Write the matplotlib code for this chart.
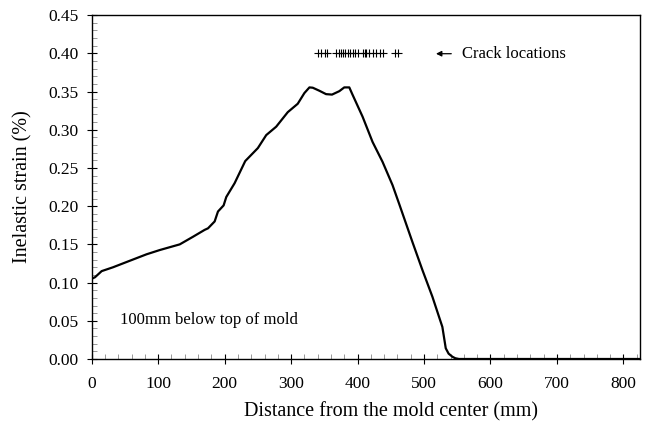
import matplotlib
matplotlib.use("Agg")
import matplotlib.pyplot as plt
from matplotlib.ticker import MultipleLocator, FormatStrFormatter

plt.rcParams['font.family'] = ['Liberation Serif', 'DejaVu Serif']

# Inelastic strain profile along the mold, 100 mm below the top
distance_mm = [0, 5, 15, 32, 57.5, 82.5, 102.5, 132.5, 152.5, 170, 175, 185, 190,
               198.5, 202.5, 215, 231, 250, 262.6, 277.6, 295, 310, 320, 327.6,
               332.6, 342.6, 352.6, 361.6, 372.6, 380, 387.6, 391.6, 407.6, 422.6,
               437.6, 452.6, 462.6, 482.6, 497.6, 512.6, 527.6, 532.7, 537, 542.6,
               547, 552.6, 600, 700, 825]
strain_pct = [0.105, 0.107, 0.115, 0.120, 0.1286, 0.137, 0.1426, 0.150, 0.160, 0.169,
              0.171, 0.180, 0.193, 0.201, 0.212, 0.230, 0.259, 0.276, 0.293, 0.304,
              0.323, 0.334, 0.348, 0.3554, 0.355, 0.351, 0.3466, 0.346, 0.3505,
              0.3554, 0.3554, 0.3475, 0.317, 0.284, 0.258, 0.2276, 0.203, 0.153,
              0.1164, 0.0815, 0.042, 0.014, 0.007, 0.003, 0.001, 0.0, 0.0, 0.0, 0.0]

# Observed crack positions
crack_x = [340.6, 344.5, 350.5, 354.6, 368.1, 371.5, 374.6, 378.2, 380.6, 385.7,
           389.1, 393.2, 396.6, 400.7, 408.2, 410.6, 413.1, 416.6, 423.2, 428.1,
           433.1, 438.2, 455.6, 461.6]
crack_level = 0.40

fig = plt.figure(figsize=(6.48, 4.32), dpi=100)
ax = fig.add_axes([0.1415, 0.169, 0.8462, 0.796])

ax.plot(distance_mm, strain_pct, color='black', lw=1.6, solid_joinstyle='round')
ax.plot(crack_x, [crack_level] * len(crack_x), linestyle='none', marker='+',
        color='black', ms=6, mew=0.8)

ax.annotate('', xy=(518, 0.3995), xytext=(541, 0.3995),
            arrowprops=dict(arrowstyle='-|>', color='black', lw=0.9,
                            mutation_scale=8, shrinkA=0, shrinkB=0))
ax.text(557, 0.3995, 'Crack locations', fontsize=12, va='center', ha='left')
ax.text(42, 0.0505, '100mm below top of mold', fontsize=12, va='center', ha='left')

ax.set_xlim(0, 825)
ax.set_ylim(0, 0.45)
ax.xaxis.set_major_locator(MultipleLocator(100))
ax.xaxis.set_minor_locator(MultipleLocator(20))
ax.yaxis.set_major_locator(MultipleLocator(0.05))
ax.yaxis.set_minor_locator(MultipleLocator(0.01))
ax.yaxis.set_major_formatter(FormatStrFormatter('%.2f'))

ax.tick_params(which='major', direction='inout', length=7, width=0.8,
               labelsize=12.5, pad=6)
ax.tick_params(which='minor', direction='in', length=3.5, width=0.6,
               color='#888888')
ax.tick_params(axis='x', which='major', pad=9)
for s in ax.spines.values():
    s.set_linewidth(1.0)

ax.set_xlabel('Distance from the mold center (mm)', fontsize=14.5, labelpad=7)
ax.xaxis.set_label_coords(0.545, -0.125)
ax.set_ylabel('Inelastic strain (%)', fontsize=14.5, labelpad=11)

fig.savefig('out.png', dpi=100)
